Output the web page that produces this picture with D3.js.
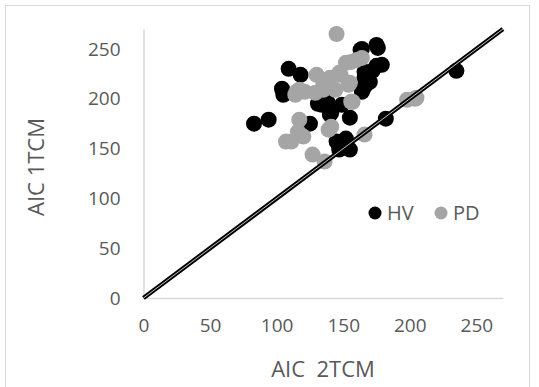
<!DOCTYPE html>
<html>
<head>
<meta charset="utf-8">
<script src="https://cdn.jsdelivr.net/npm/d3@7"></script>
<style>
  body { margin: 0; background: #fff; }
  svg text { font-family: "Open Sans", "Noto Sans", sans-serif; fill: #595959; }
</style>
</head>
<body>
<div id="chart"></div>
<script>
// HV: [AIC 2TCM, AIC 1TCM]
const hvPoints = [
  [83, 175], [94, 179], [105, 204], [104, 210], [109, 230], [118, 224],
  [125, 175], [131, 195], [134, 194], [138, 197], [140, 184], [141, 186],
  [149, 194], [155, 181], [145, 157], [152, 160], [147, 149], [155, 149],
  [164, 250], [163, 249], [175, 254], [176, 251], [179, 234], [175, 233],
  [166, 227], [166, 221], [170, 217], [172, 228], [167, 214], [164, 207],
  [165, 210], [182, 180], [235, 228]
];
// PD: [AIC 2TCM, AIC 1TCM]
const pdPoints = [
  [145, 265], [164, 241], [156, 237], [160, 239], [152, 236], [147, 226],
  [140, 221], [130, 224], [139, 219], [148, 224], [135, 216], [155, 216],
  [154, 214], [135, 209], [129, 206], [144, 209], [117, 209], [114, 204],
  [115, 207], [121, 207], [157, 197], [156, 197], [117, 179], [116, 167],
  [120, 162], [107, 157], [111, 157], [139, 169], [141, 172], [127, 144],
  [136, 137], [166, 164], [198, 199], [204, 200], [205, 201]
];
const xTicks = [0, 50, 100, 150, 200, 250];
const yTicks = [0, 50, 100, 150, 200, 250];
const identityLine = [[0, 0], [270, 270]];
const seriesNames = ['HV', 'PD'];

const width = 539, height = 387;
const margin = { top: 29, right: 36, bottom: 89, left: 143.5 };
const w = width - margin.left - margin.right;
const h = height - margin.top - margin.bottom;

const svg = d3.select('#chart')
  .append('svg')
  .attr('width', width)
  .attr('height', height);

// chart border
svg.append('rect')
  .attr('x', 5.5).attr('y', 5.5)
  .attr('width', 524).attr('height', 400)
  .attr('fill', 'none')
  .attr('stroke', '#d9d9d9');

const g = svg.append('g')
  .attr('transform', `translate(${margin.left},${margin.top})`);

const x = d3.scaleLinear().domain([0, 270]).range([0, w]);
const y = d3.scaleLinear().domain([0, 270]).range([h, 0]);

// axes, no ticks
const xAxis = g.append('g')
  .attr('transform', `translate(0,${h})`)
  .call(d3.axisBottom(x).tickValues(xTicks).tickSize(0).tickPadding(21));
const yAxis = g.append('g')
  .call(d3.axisLeft(y).tickValues(yTicks).tickSize(0).tickPadding(23));

[xAxis, yAxis].forEach(a => {
  a.select('.domain').attr('stroke', '#d9d9d9').attr('stroke-width', 1.5);
  a.selectAll('text')
    .attr('font-size', '19px')
    .attr('font-family', '"Open Sans", sans-serif')
    .attr('fill', '#595959');
});

// points
const color = { HV: '#000000', PD: '#a5a5a5' };
g.selectAll('.hv')
  .data(hvPoints)
  .enter()
  .append('circle')
  .attr('class', 'hv')
  .attr('cx', d => x(d[0]))
  .attr('cy', d => y(d[1]))
  .attr('r', 8)
  .attr('fill', color.HV);

g.selectAll('.pd')
  .data(pdPoints)
  .enter()
  .append('circle')
  .attr('class', 'pd')
  .attr('cx', d => x(d[0]))
  .attr('cy', d => y(d[1]))
  .attr('r', 8)
  .attr('fill', color.PD);

// identity line (double style)
const line = d3.line().x(d => x(d[0])).y(d => y(d[1]));
g.append('path')
  .datum(identityLine)
  .attr('d', line)
  .attr('fill', 'none')
  .attr('stroke', '#000')
  .attr('stroke-width', 4.5);
g.append('path')
  .datum(identityLine)
  .attr('d', line)
  .attr('fill', 'none')
  .attr('stroke', '#bfbfbf')
  .attr('stroke-width', 1);

// legend
const legend = svg.append('g').attr('transform', 'translate(375,213)');
seriesNames.forEach((name, i) => {
  const item = legend.append('g').attr('transform', `translate(${i * 66},0)`);
  item.append('circle').attr('r', 6.5).attr('fill', color[name]);
  item.append('text')
    .attr('x', 12)
    .attr('dy', '0.35em')
    .attr('font-size', '20px')
    .text(name);
});

// axis titles
svg.append('text')
  .attr('x', 323)
  .attr('y', 369)
  .attr('dy', '0.35em')
  .attr('text-anchor', 'middle')
  .attr('font-size', '22px')
  .attr('xml:space', 'preserve')
  .text('AIC  2TCM');

svg.append('text')
  .attr('transform', 'translate(36,167) rotate(-90)')
  .attr('dy', '0.35em')
  .attr('text-anchor', 'middle')
  .attr('font-size', '22px')
  .text('AIC 1TCM');
</script>
</body>
</html>
